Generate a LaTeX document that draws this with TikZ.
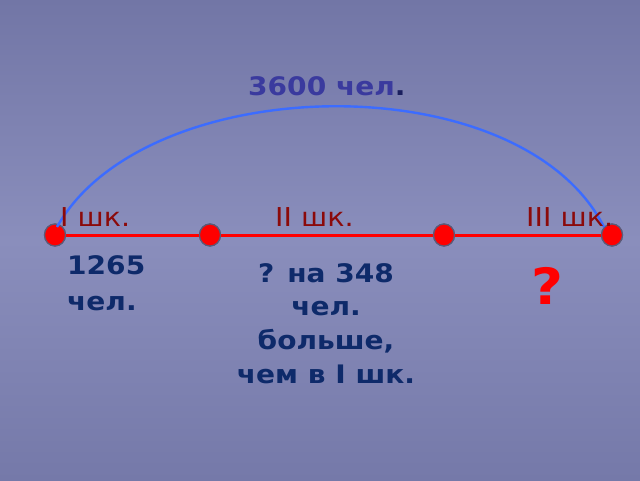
\documentclass[tikz,border=0pt]{standalone}
\usepackage{fontspec}
\setmainfont{DejaVu Sans}
\newfontfamily\widesans[FakeStretch=1.1]{DejaVu Sans}
\definecolor{bgtop}{HTML}{7276A6}
\definecolor{bgmid}{HTML}{8A8EBC}
\definecolor{bgbot}{HTML}{7579A9}
\definecolor{schoolred}{HTML}{8B0A0A}
\definecolor{navy}{HTML}{0E2A6A}
\definecolor{totalblue}{HTML}{3A3A9E}
\definecolor{dotnavy}{HTML}{1A1F5E}
\definecolor{arcblue}{HTML}{3C6CFF}
\definecolor{linered}{HTML}{FF0000}
\definecolor{rimgrey}{HTML}{5A5A78}
\usetikzlibrary{shapes.geometric}
\tikzset{
  pointdot/.style={ellipse, minimum width=21pt, minimum height=22pt, inner sep=0pt, fill=linered, draw=rimgrey, line width=1.2pt},
  schoollbl/.style={text=schoolred, font=\widesans\fontsize{26}{30}\selectfont, inner sep=0pt, anchor=base west},
  navytext/.style={text=navy, font=\widesans\bfseries\fontsize{25.5}{33.7}\selectfont, inner sep=0pt}
}
\begin{document}
\begin{tikzpicture}[x=1pt,y=-1pt]
\useasboundingbox (0,0) rectangle (640,480);
\shade[top color=bgtop, bottom color=bgbot, middle color=bgmid] (0,0) rectangle (640,480);
% points
\node[pointdot] (p1) at (55,235) {};
\node[pointdot] (p2) at (210,235) {};
\node[pointdot] (p3) at (444,235) {};
\node[pointdot] (p4) at (612,235) {};
% segment
\draw[linered, line width=3pt] (p1) -- (p2) -- (p3) -- (p4);
\node[pointdot] at (p1) {};
\node[pointdot] at (p2) {};
\node[pointdot] at (p3) {};
\node[pointdot] at (p4) {};
% arc
\coordinate (a1) at (57,227);
\coordinate (a2) at (604,227);
\draw[arcblue, line width=2.4pt] (a1) .. controls (145,70) and (520,62) .. (a2);
% labels
\node[schoollbl] (l1) at (60,226) {I шк.};
\node[schoollbl] (l2) at (275,226) {II шк.};
\node[schoollbl] (l3) at (526,226) {III шк.};
\node[inner sep=0pt, anchor=base west, font=\widesans\bfseries\fontsize{25.5}{30}\selectfont] (tot) at (248,95) {\textcolor{totalblue}{3600 чел}\textcolor{dotnavy}{.}};
\node[navytext, align=left, anchor=north west, font=\widesans\bfseries\fontsize{25.5}{36}\selectfont] (n1) at (67,255) {1265\\чел.};
\node[navytext, align=center, anchor=north] (n2) at (326,263) {? на 348\\чел.\\больше,\\чем в I шк.};
\node[inner sep=0pt, anchor=north, text=linered, font=\widesans\bfseries\fontsize{50}{50}\selectfont] (q) at (547,267) {?};
\end{tikzpicture}
\end{document}
